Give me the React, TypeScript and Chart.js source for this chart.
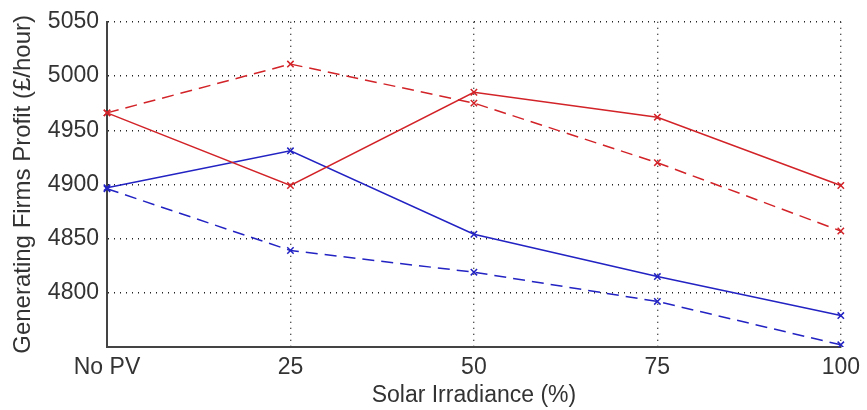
import React, { useEffect, useRef } from "react";
import { Chart, registerables } from "chart.js";

Chart.register(...registerables);

const categories = ["No PV", "25", "50", "75", "100"];
const redSolid = [4966, 4899, 4985, 4962, 4899];
const redDashed = [4966, 5011, 4975, 4920, 4857];
const blueSolid = [4897, 4931, 4854, 4815, 4779];
const blueDashed = [4896, 4839, 4819, 4792, 4752];
const yTicks = [4800, 4850, 4900, 4950, 5000, 5050];

const RED = "rgb(210,35,40)";
const BLUE = "rgb(35,35,195)";
const FONT = "Liberation Sans, Arial, sans-serif";

export default function App() {
  const ref = useRef<HTMLCanvasElement | null>(null);
  useEffect(() => {
    if (!ref.current) return;
    const mk = (label: string, data: number[], color: string, dashed: boolean) => ({
      label,
      data,
      borderColor: color,
      backgroundColor: color,
      borderWidth: 1.5,
      borderDash: dashed ? [12, 7] : [],
      pointStyle: "crossRot" as const,
      pointRadius: 4.5,
      pointBorderWidth: 1.5,
      pointBorderColor: color,
      tension: 0,
      fill: false,
    });
    const chart = new Chart(ref.current, {
      type: "line",
      data: {
        labels: categories,
        datasets: [
          mk("Red solid", redSolid, RED, false),
          mk("Red dashed", redDashed, RED, true),
          mk("Blue solid", blueSolid, BLUE, false),
          mk("Blue dashed", blueDashed, BLUE, true),
        ],
      },
      options: {
        animation: false,
        responsive: false,
        maintainAspectRatio: false,
        layout: { padding: { top: 21, right: 24, left: 0, bottom: 0 } },
        plugins: { legend: { display: false }, tooltip: { enabled: false } },
        scales: {
          x: {
            offset: false,
            grid: { color: "#222", lineWidth: 1.4, drawTicks: false },
            border: { display: true, color: "#444", width: 2, dash: [1, 5] } as any,
            ticks: {
              color: "#333",
              font: { family: FONT, size: 23 },
              padding: 7,
              maxRotation: 0,
            },
            title: {
              display: true,
              text: "Solar Irradiance (%)",
              color: "#333",
              font: { family: FONT, size: 23 },
              padding: { top: 0, bottom: 1 },
            },
            afterFit: (s: any) => {
              s.height = 63;
            },
          },
          y: {
            min: 4750,
            max: 5050,
            afterBuildTicks: (s: any) => {
              s.ticks = [4750, ...yTicks].map((v) => ({ value: v }));
            },
            grid: {
              color: (ctx: any) => (ctx.tick && ctx.tick.value === 4750 ? "rgba(0,0,0,0)" : "#222"),
              lineWidth: 1.4,
              drawTicks: false,
            },
            border: { display: true, color: "#444", width: 2, dash: [1, 5] } as any,
            ticks: {
              color: "#333",
              font: { family: FONT, size: 23 },
              padding: 8,
              callback: (v: any) => (Number(v) === 4750 ? "" : String(v)),
            },
            title: {
              display: true,
              text: "Generating Firms Profit (£/hour)",
              color: "#333",
              font: { family: FONT, size: 24 },
              padding: { top: 9, bottom: 0 },
            },
            afterFit: (s: any) => {
              s.width = 107;
            },
          },
        },
      },
    });
    return () => chart.destroy();
  }, []);
  return (
    <div style={{ position: "fixed", left: 0, top: 0, width: 867, height: 410, background: "#fff" }}>
      <canvas ref={ref} width={867} height={410} style={{ width: 867, height: 410 }} />
    </div>
  );
}
